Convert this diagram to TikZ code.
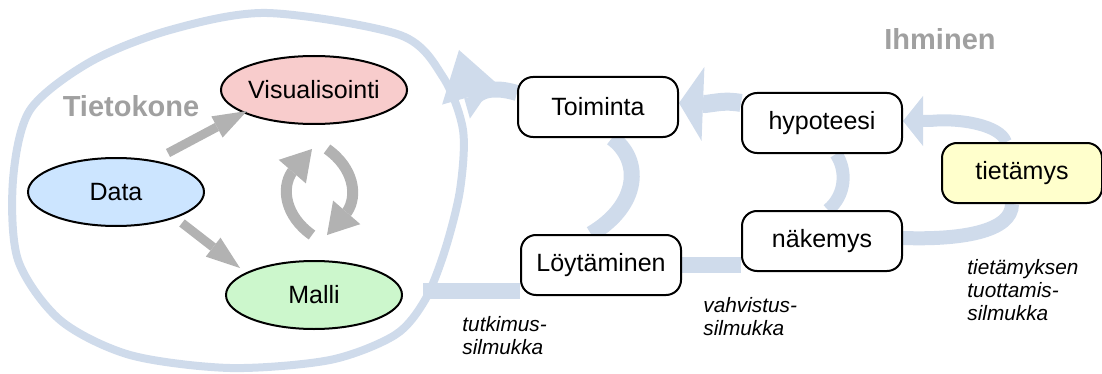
\documentclass[tikz,border=0pt]{standalone}
\usepackage{fontspec}
\setmainfont{Liberation Sans}
\usetikzlibrary{shapes.geometric,arrows.meta,backgrounds}
\definecolor{loopc}{RGB}{207,219,235}
\definecolor{arrg}{RGB}{178,178,178}
\definecolor{txtg}{RGB}{160,160,160}
\definecolor{visc}{RGB}{248,204,204}
\definecolor{datac}{RGB}{204,229,255}
\definecolor{mallic}{RGB}{204,247,204}
\definecolor{tiec}{RGB}{255,255,204}
\begin{document}
\begin{tikzpicture}[x=0.5pt, y=-0.5pt, line join=round]
        \useasboundingbox (0,0) rectangle (1102,374);
        \tikzstyle{e}=[ellipse, draw, line width=1pt, inner sep=0pt, minimum width=88pt, minimum height=34pt, font=\fontsize{12.5}{15}\selectfont]
        \tikzstyle{b}=[rectangle, rounded corners=7.5pt, draw, fill=white, line width=1pt, minimum width=80pt, minimum height=30pt, font=\fontsize{12.5}{15}\selectfont]
        \tikzstyle{big}=[text=txtg, font=\bfseries\fontsize{14.5}{17}\selectfont]
        \tikzstyle{lbl}=[anchor=north west, align=left, inner sep=0pt, font=\itshape\fontsize{10.4}{11.5}\selectfont]
        \node[e, fill=visc] (VIS) at (314,90) {Visualisointi};
        \node[e, fill=datac] (DATA) at (116,192) {Data};
        \node[e, fill=mallic] (MALLI) at (314,295) {Malli};
        \node[big] (TK) at (131,106) {Tietokone};
        \node[big] (IH) at (940,39) {Ihminen};

        \node[b] (TOI) at (598,107) {Toiminta};
        \node[b] (LOY) at (601,265) {Löytäminen};
        \node[b] (HYP) at (822,123) {hypoteesi};
        \node[b] (NAK) at (822,241) {näkemys};
        \node[b, fill=tiec] (TIE) at (1022,173) {tietämys};

        \node[lbl] (L1) at (462,316) {tutkimus-\\silmukka};
        \node[lbl] (L2) at (703,297) {vahvistus-\\silmukka};
        \node[lbl] (L3) at (967,259) {tietämyksen\\tuottamis-\\silmukka};

        \tikzstyle{garr}=[draw=arrg, line width=4.5pt, -{Triangle[length=17pt, width=12pt, line width=0pt]}]
        \draw[garr] ([shift={(52,-39)}]DATA.center)--([shift={(-67,21)}]VIS.center);
        \draw[garr] ([shift={(66,31)}]DATA.center)--([shift={(-74,-27)}]MALLI.center);
        \tikzstyle{carr}=[draw=arrg, line width=5.5pt, -{Triangle[length=15pt, width=18pt, line width=0pt]}]
        \draw[carr] ([xshift=-1pt,yshift=12.5pt]MALLI.north) .. controls (285,216) and (281,188) .. (292,172)--([xshift=-1pt,yshift=-12pt]VIS.south);
        \draw[carr] ([xshift=6.5pt,yshift=-12pt]VIS.south) .. controls (354,168) and (358,196) .. (347,212)--([xshift=6.5pt,yshift=12.5pt]MALLI.north);

        \begin{pgfonlayer}{background}
        \tikzstyle{band}=[draw=loopc, line width=8pt]
        % tietokone
        \draw[loopc, line width=4pt] plot[smooth cycle] coordinates {(267,13) (400,35) (443,77) (463,130) (460,190) (445,250) (425,300) (395,335) (330,360) (230,368) (130,355) (60,320) (18,260) (13,180) (30,110) (90,62) (170,30)};
        % tutkimussilmukka
        \coordinate (J) at (423,291);
        \coordinate (T1) at (459,50);
        \draw[band] ([yshift=-13pt]LOY.west)--(J);
        \draw[band] ([xshift=-5pt]LOY.north) .. controls (640,205) and (642,160) .. ([xshift=7pt]TOI.south);
        \draw[band, -{Triangle[length=24pt, width=31pt, line width=0pt]}] ([yshift=7pt]TOI.west) .. controls (494,86) and (478,90) .. (473,100)--(T1);
        % vahvistussilmukka
        \draw[band] (LOY.east)--(LOY.east -| NAK.west);
        \draw[band, line width=6.5pt] ([xshift=3pt]NAK.north) .. controls (846,195) and (847,170) .. ([xshift=7pt]HYP.south);
        \draw[band, line width=9pt, -{Triangle[length=12pt, width=37pt, line width=0pt]}] ([yshift=10pt]HYP.west) .. controls (725,100) and (715,103) .. (705,104)--([yshift=2pt]TOI.east);
        % tietamyksen tuottamissilmukka
        \draw[band, line width=7pt] ([xshift=-5pt]TIE.south) .. controls (1012,232) and (960,240) .. ([yshift=1.5pt]NAK.east);
        \draw[band, line width=6pt, -{Triangle[length=10pt, width=25pt, line width=0pt]}] ([xshift=-8pt]TIE.north) .. controls (1000,125) and (960,118) .. (930,121)--([yshift=1pt]HYP.east);
        \end{pgfonlayer}
\end{tikzpicture}
\end{document}
